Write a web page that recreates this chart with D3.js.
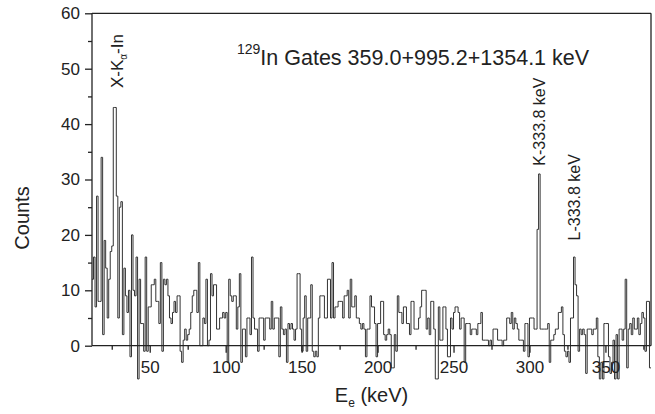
<!DOCTYPE html>
<html>
<head>
    <script src="https://d3js.org/d3.v7.min.js"></script>
    <style>
        body { margin: 0; background: #fff; }
        text { font-family: "Liberation Sans", Arial, sans-serif; fill: #222; }
    </style>
</head>
<body>
    <div id="chart"></div>
    <script>
        // Set up dimensions
        const width = 655;
        const height = 414;

        // Spectrum: 1 keV bins from 12 keV to 380 keV
        const energyRange = [12, 380];
        const binWidth = 1;
        const counts = [
            12, 16, 7, 27, 8, 8, 34, 2, 19, 14,
            5, 12, 17, 18, 43, 43, 27, 5, 25, 26,
            2, 14, 9, 6, 10, -2, 20, 10, 9, 16,
            -6, 12, 4, 4, -1, 16, -1, 7, 7, 11,
            11, 12, 8, 8, 4, 15, -1, 12, 11, 12,
            9, 5, 4, 6, 8, 6, 9, 9, -1, -3,
            1, 3, 1, 2, 3, 6, 9, 10, 10, 6,
            15, 0, 0, 5, 4, 12, 0, 1, 13, 9,
            11, 11, 3, 3, 5, 5, 6, 5, 6, -3,
            12, 9, 8, 9, 9, 3, 7, 13, -3, 3,
            3, -2, 5, 5, 2, 16, 5, 3, 3, -1,
            5, 5, 5, 1, 5, 5, 5, 3, 8, 3,
            5, 5, 5, -2, 7, 3, 2, 3, -3, 4,
            3, 4, 3, 1, 3, 13, 13, 3, -1, 5,
            9, -1, 5, 5, 11, -1, -2, -1, -2, 5,
            9, 9, 9, 5, 5, 12, 12, 5, 15, 5,
            7, 7, 8, 8, 8, 5, 9, 9, 10, 5,
            12, 7, 7, 9, 5, 5, 4, 3, 4, 3,
            -2, 3, 3, 9, 7, 7, 4, -2, 4, 4,
            8, 8, 2, 1, 2, 3, 2, -4, -4, 2,
            -1, 9, 6, 6, 4, 7, 7, 4, 4, 2,
            8, 8, 3, 3, 3, 5, 7, 10, 10, 10,
            3, 5, 2, 8, 8, 3, -6, -6, 7, 1,
            1, 7, 7, 3, -2, -2, 5, 3, 6, 7,
            7, 6, 3, 5, 5, -3, 4, 4, 4, 2,
            3, 3, 3, 2, 4, 4, 6, 1, 1, 1,
            1, 0, 1, 0, 3, 3, 3, 1, 1, 1,
            0, 1, 1, 5, 5, 4, 6, 3, 5, 4,
            3, 1, 1, 1, -1, 4, 4, -2, 5, 5,
            5, 3, 3, 21, 31, 3, 3, 3, 3, 3,
            4, -3, 1, 1, 2, 3, 3, 6, 6, 7,
            2, -1, -2, -1, -3, 5, 5, 16, 11, 9,
            -1, 3, 2, 3, 2, -5, 3, 3, 3, 2,
            3, 3, 5, -2, -6, -3, -6, 4, 4, 4,
            -2, -5, -3, 1, -6, 2, -6, 3, 3, 1,
            3, 12, -4, 3, 4, 2, 5, 3, 3, 5,
            2, 4, 6, 5, -1, 8, 8, -4
        ];

        // Axis ticks
        const xTicks = [50, 100, 150, 200, 250, 300, 350];
        const xMinorTicks = [25, 75, 125, 175, 225, 275, 325, 375];
        const yTicks = [0, 10, 20, 30, 40, 50, 60];
        const yMinorTicks = [5, 15, 25, 35, 45, 55];

        // Peak labels (energy in keV, count where the label text ends)
        const peakLabels = [
            { text: "K-333.8 keV", energy: 306, labelEnd: 32.5 },
            { text: "L-333.8 keV", energy: 329, labelEnd: 19 }
        ];

        const margin = { left: 92, right: 4, top: 13.3, bottom: 68.3 };

        const svg = d3.select("#chart")
            .append("svg")
            .attr("width", width)
            .attr("height", height);

        const x = d3.scaleLinear()
            .domain(energyRange)
            .range([margin.left, width - margin.right]);

        const y = d3.scaleLinear()
            .domain([0, 60])
            .range([height - margin.bottom, margin.top]);

        // Histogram outline as a step line
        const points = counts.map((c, i) => [energyRange[0] + i * binWidth, c]);
        points.push([energyRange[1], counts[counts.length - 1]]);

        const line = d3.line()
            .x(d => x(d[0]))
            .y(d => y(d[1]))
            .curve(d3.curveStepAfter);

        svg.append("path")
            .datum(points)
            .attr("d", line)
            .attr("fill", "none")
            .attr("stroke", "#333")
            .attr("stroke-width", 1);

        // Frame: left, top, right, and zero line
        const frame = svg.append("g")
            .attr("stroke", "#222")
            .attr("stroke-width", 1.3);
        frame.append("line")
            .attr("x1", x(energyRange[0])).attr("x2", x(energyRange[0]))
            .attr("y1", y(60)).attr("y2", y(0));
        frame.append("line")
            .attr("x1", x(energyRange[0])).attr("x2", x(energyRange[1]))
            .attr("y1", y(60)).attr("y2", y(60));
        frame.append("line")
            .attr("x1", x(energyRange[1])).attr("x2", x(energyRange[1]))
            .attr("y1", y(60)).attr("y2", y(0));
        frame.append("line")
            .attr("x1", x(energyRange[0])).attr("x2", x(energyRange[1]))
            .attr("y1", y(0)).attr("y2", y(0));

        // Y axis
        const yAxis = svg.append("g")
            .attr("transform", `translate(${x(energyRange[0])},0)`)
            .call(d3.axisLeft(y).tickValues(yTicks).tickSize(7).tickPadding(5));
        yAxis.select(".domain").remove();
        yAxis.selectAll("text").style("font-size", "17px")
            .style("font-family", "Liberation Sans, Arial, sans-serif").attr("fill", "#222");
        yAxis.selectAll("line").attr("stroke", "#222").attr("stroke-width", 1.3);

        const yMinor = svg.append("g")
            .attr("transform", `translate(${x(energyRange[0])},0)`)
            .call(d3.axisLeft(y).tickValues(yMinorTicks).tickSize(4).tickFormat(""));
        yMinor.select(".domain").remove();
        yMinor.selectAll("line").attr("stroke", "#222").attr("stroke-width", 1.3);

        // X axis at zero
        const xAxis = svg.append("g")
            .attr("transform", `translate(0,${y(0)})`)
            .call(d3.axisBottom(x).tickValues(xTicks).tickSize(7).tickPadding(8));
        xAxis.select(".domain").remove();
        xAxis.selectAll("text").style("font-size", "17px")
            .style("font-family", "Liberation Sans, Arial, sans-serif").attr("fill", "#222");
        xAxis.selectAll("line").attr("stroke", "#222").attr("stroke-width", 1.3);

        const xMinor = svg.append("g")
            .attr("transform", `translate(0,${y(0)})`)
            .call(d3.axisBottom(x).tickValues(xMinorTicks).tickSize(4).tickFormat(""));
        xMinor.select(".domain").remove();
        xMinor.selectAll("line").attr("stroke", "#222").attr("stroke-width", 1.3);

        // Axis titles
        svg.append("text")
            .attr("transform", "translate(29,218) rotate(-90)")
            .attr("text-anchor", "middle")
            .style("font-size", "20px")
            .text("Counts");

        const xTitle = svg.append("text")
            .attr("x", (x(energyRange[0]) + x(energyRange[1])) / 2)
            .attr("y", 402)
            .attr("text-anchor", "middle")
            .style("font-size", "20px");
        xTitle.append("tspan").text("E");
        xTitle.append("tspan").attr("dy", 5).style("font-size", "12px").text("e");
        xTitle.append("tspan").attr("dy", -5).text(" (keV)");

        // Title with superscript
        const title = svg.append("text")
            .attr("x", 237)
            .attr("y", 65)
            .style("font-size", "21.5px");
        title.append("tspan").attr("dy", -11).style("font-size", "14px").text("129");
        title.append("tspan").attr("dy", 11).text("In Gates 359.0+995.2+1354.1 keV");

        // X-ray label
        const xray = svg.append("text")
            .attr("transform", "translate(123,88) rotate(-90)")
            .style("font-size", "17px");
        xray.append("tspan").text("X-K");
        xray.append("tspan").attr("dy", 4).style("font-size", "10px").text("α");
        xray.append("tspan").attr("dy", -4).text("-In");

        // Peak labels
        svg.selectAll(".peak-label")
            .data(peakLabels)
            .enter()
            .append("text")
            .attr("class", "peak-label")
            .attr("transform", d => `translate(${x(d.energy + 0.5) + 6},${y(d.labelEnd)}) rotate(-90)`)
            .style("font-size", "16px")
            .text(d => d.text);
    </script>
</body>
</html>
